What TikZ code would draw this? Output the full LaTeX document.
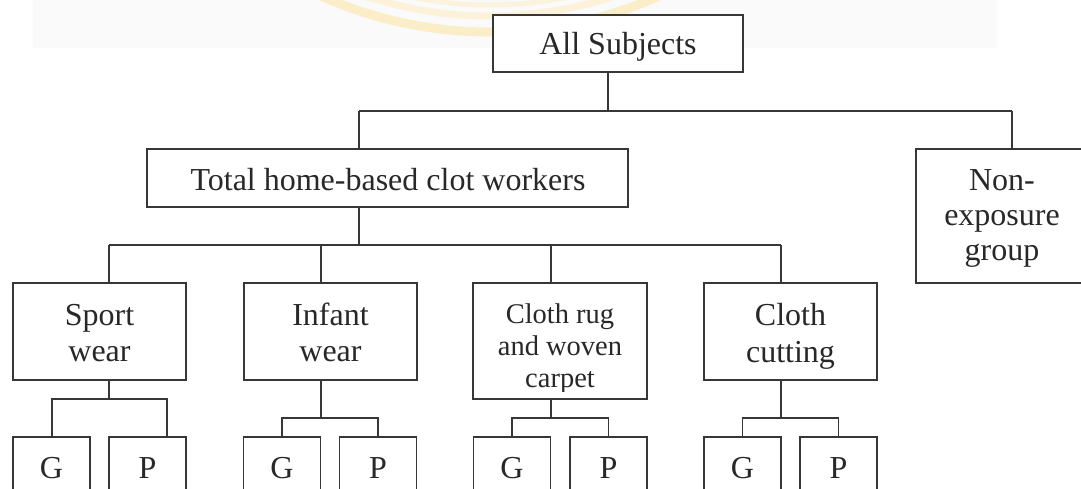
\documentclass[tikz,border=0pt]{standalone}
\usepackage{fontspec}
\setmainfont{Liberation Serif}
\definecolor{linec}{RGB}{55,55,55}
\definecolor{textc}{RGB}{40,40,40}
\definecolor{wmA}{RGB}{250,228,160}
\definecolor{wmB}{RGB}{252,238,195}
\definecolor{bandc}{RGB}{250,250,250}
\begin{document}
\begin{tikzpicture}[x=1pt,y=-1pt,
  box/.style={draw=linec, line width=1.5pt, rectangle, inner sep=0pt, fill=white},
  txt/.style={inner sep=0pt, align=center, text=textc, anchor=base, font=\fontsize{32}{36}\selectfont},
  small/.style={inner sep=0pt, align=center, text=textc, anchor=base, font=\fontsize{28.5}{32}\selectfont},
  conn/.style={draw=linec, line width=1.5pt}]
\clip (0,0) rectangle (1081,489);
\fill[white] (0,0) rectangle (1081,489);
% faint background band and watermark
\fill[bandc] (33,0) rectangle (997,48);
\draw[wmA, line width=9pt, opacity=0.55] (490,-381) circle (413pt);
\draw[wmB, line width=7pt, opacity=0.6] (490,-381) circle (397pt);
\draw[wmB, line width=5pt, opacity=0.5] (490,-381) circle (386pt);
% level 0 and 1
\node[box, minimum width=250pt, minimum height=57pt] (all) at (618,43.5) {};
\node[txt] (allT) at (618,55) {All Subjects};
\node[box, minimum width=481pt, minimum height=58pt] (total) at (387.5,178) {};
\node[txt] (totalT) at (388,190) {Total home-based clot workers};
\node[box, minimum width=184pt, minimum height=134pt] (nonexp) at (1008,216) {};
\node[txt, font=\fontsize{32}{35}\selectfont] (nonexpT) at (1002,260) {Non-\\exposure\\group};
% level 2
\node[box, minimum width=173pt, minimum height=97pt] (sport) at (99.5,331.5) {};
\node[txt] (sportT) at (99.5,361) {Sport\\wear};
\node[box, minimum width=173pt, minimum height=97pt] (infant) at (330.5,331.5) {};
\node[txt] (infantT) at (330.5,361) {Infant\\wear};
\node[box, minimum width=174pt, minimum height=116pt] (rug) at (560,341) {};
\begin{scope}
\clip (474,284) rectangle (646,391);
\node[small] (rugT) at (560,387) {Cloth rug\\and woven\\carpet};
\end{scope}
\node[box, minimum width=173pt, minimum height=97pt] (cutting) at (790.5,331.5) {};
\node[txt, font=\fontsize{32}{37}\selectfont] (cuttingT) at (790.5,362) {Cloth\\cutting};
% level 3
\foreach \n/\x/\t in {sG/51.5/G, sP/147.5/P, iG/282/G, iP/378/P, rG/512/G, rP/608.5/P, cG/742.5/G, cP/838.5/P}{
  \node[box, minimum width=77pt, minimum height=63pt] (\n) at (\x,468.5) {};
  \node[txt] (\n T) at (\x,478) {\t};
}
% connectors level 0 -> 1
\coordinate (j0) at (608,111);
\coordinate (t0) at (359,111);
\coordinate (n0) at (1012,111);
\draw[conn] (all.south -| j0) -- (j0);
\draw[conn] (t0) -- (n0);
\draw[conn] (t0) -- (t0 |- total.north);
\draw[conn] (n0) -- (n0 |- nonexp.north);
% connectors level 1 -> 2
\coordinate (j1) at (359,245);
\coordinate (a1) at (109,245);
\coordinate (b1) at (321,245);
\coordinate (c1) at (551,245);
\coordinate (d1) at (781,245);
\draw[conn] (total.south -| j1) -- (j1);
\draw[conn] (a1) -- (d1);
\draw[conn] (a1) -- (a1 |- sport.north);
\draw[conn] (b1) -- (b1 |- infant.north);
\draw[conn] (c1) -- (c1 |- rug.north);
\draw[conn] (d1) -- (d1 |- cutting.north);
% connectors level 2 -> 3
\coordinate (sj) at (109,399);
\coordinate (sl) at (52,399);
\coordinate (sr) at (167,399);
\draw[conn] (sport.south -| sj) -- (sj);
\draw[conn] (sl |- sG.north) -- (sl) -- (sr) -- (sr |- sP.north);
\coordinate (ij) at (321,418);
\draw[conn] (infant.south -| ij) -- (ij);
\draw[conn] (iG.north) -- (iG.north |- ij) -- (iP.north |- ij) -- (iP.north);
\coordinate (rj) at (551,418);
\draw[conn] (rug.south -| rj) -- (rj);
\draw[conn] (rG.north) -- (rG.north |- rj) -- (rP.north |- rj) -- (rP.north);
\coordinate (cj) at (781,418);
\draw[conn] (cutting.south -| cj) -- (cj);
\draw[conn] (cG.north) -- (cG.north |- cj) -- (cP.north |- cj) -- (cP.north);
\end{tikzpicture}
\end{document}
